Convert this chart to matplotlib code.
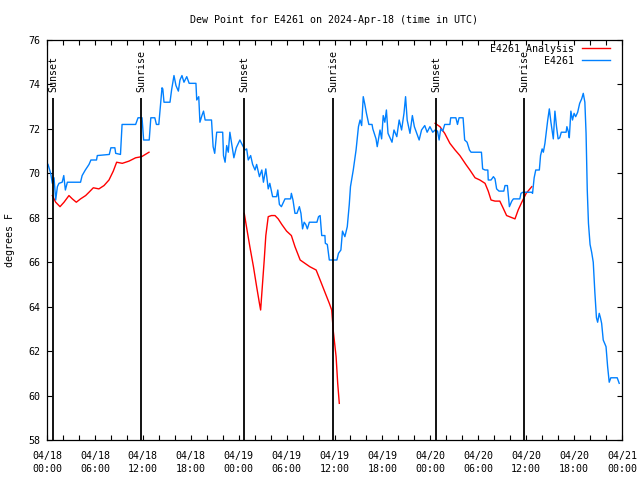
import numpy as np
import matplotlib
matplotlib.use("Agg")
import matplotlib.pyplot as plt
from matplotlib.ticker import MultipleLocator

# station data (hours since 2024-04-18 00:00 UTC, dew point in F)
obs_hours = [0.13, 0.46, 0.67, 0.88, 1.09, 1.3, 1.5, 1.9, 2.1, 2.3, 2.55, 4.2, 4.4, 4.8, 5.26,
             5.5, 6.2, 6.3, 7.8, 8.0, 8.5, 8.6, 9.2, 9.4, 11.1, 11.4, 11.9, 12.1, 12.8, 13.0,
             13.5, 13.7, 14.0, 14.2, 14.4, 14.5, 14.65, 15.4, 15.6, 15.9, 16.15, 16.45, 16.65,
             16.9, 17.15, 17.5, 17.8, 18.65, 18.75, 19.0, 19.15, 19.4, 19.6, 19.8, 20.6, 20.8,
             21.0, 21.25, 22.0, 22.1, 22.3, 22.5, 22.7, 22.9, 23.1, 23.4, 23.7, 24.15, 24.5,
             24.8, 25.0, 25.2, 25.5, 25.75, 26.05, 26.25, 26.6, 26.9, 27.1, 27.4, 27.7, 27.9,
             28.25, 28.75, 28.9, 29.1, 29.35, 29.8, 30.5, 30.6, 30.8, 31.05, 31.3, 31.6, 31.8,
             32.0, 32.2, 32.4, 32.6, 32.85, 33.8, 34.0, 34.2, 34.4, 34.8, 34.85, 35.1, 35.35,
             36.3, 36.5, 36.8, 37.0, 37.3, 37.6, 37.85, 38.0, 38.35, 38.7, 39.0, 39.2, 39.4,
             39.6, 39.8, 40.0, 40.3, 40.7, 40.8, 41.2, 41.35, 41.7, 41.9, 42.1, 42.3, 42.5,
             42.7, 43.2, 43.45, 43.8, 44.1, 44.4, 44.7, 44.9, 45.1, 45.45, 45.75, 46.0, 46.3,
             46.6, 46.9, 47.3, 47.6, 47.95, 48.3, 48.6, 48.9, 49.1, 49.3, 49.55, 49.8, 50.45,
             50.55, 51.2, 51.4, 51.6, 52.1, 52.3, 52.6, 52.9, 53.1, 54.4, 54.55, 54.85, 55.2,
             55.25, 55.6, 55.9, 56.1, 56.3, 56.6, 57.2, 57.35, 57.65, 57.9, 58.2, 58.4, 59.2,
             59.35, 59.6, 60.7, 60.8, 61.0, 61.2, 61.65, 61.8, 62.0, 62.15, 62.35, 62.5, 62.7,
             62.9, 63.1, 63.3, 63.4, 63.6, 63.8, 64.0, 64.2, 64.4, 65.0, 65.1, 65.3, 65.4, 65.6,
             65.8, 66.0, 66.2, 66.45, 66.7, 66.95, 67.15, 67.35, 67.5, 67.65, 67.8, 68.0, 68.2,
             68.4, 68.6, 68.8, 68.95, 69.15, 69.3, 69.45, 69.65, 70.0, 70.2, 70.4, 70.6, 71.4,
             71.65]
obs_dewpt = [70.4, 70.0, 69.55, 69.8, 68.8, 69.4, 69.55, 69.6, 69.9, 69.25, 69.6, 69.6, 69.9,
             70.15, 70.4, 70.6, 70.6, 70.8, 70.85, 71.15, 71.15, 70.9, 70.85, 72.2, 72.2, 72.5,
             72.5, 71.5, 71.5, 72.5, 72.5, 72.2, 72.2, 73.0, 73.85, 73.8, 73.2, 73.2, 73.75,
             74.4, 73.95, 73.7, 74.2, 74.4, 74.1, 74.35, 74.05, 74.05, 73.3, 73.45, 72.3, 72.6,
             72.8, 72.4, 72.4, 71.2, 70.9, 71.85, 71.85, 70.8, 70.5, 71.25, 70.95, 71.85, 71.4,
             70.7, 71.15, 71.5, 71.25, 71.05, 71.1, 70.6, 70.8, 70.4, 70.15, 70.4, 69.85, 70.15,
             69.6, 70.2, 69.3, 69.55, 68.95, 68.95, 69.25, 68.6, 68.5, 68.85, 68.85, 69.1, 68.8,
             68.2, 68.2, 68.5, 68.2, 67.5, 67.8, 67.7, 67.5, 67.8, 67.8, 68.05, 68.1, 67.2, 67.2,
             66.85, 66.8, 66.1, 66.1, 66.4, 66.55, 67.4, 67.15, 67.6, 68.6, 69.4, 70.15, 71.05,
             72.1, 72.4, 72.15, 73.45, 73.1, 72.7, 72.2, 72.2, 72.0, 71.55, 71.2, 71.95, 71.55,
             72.6, 72.3, 72.85, 71.8, 71.4, 71.95, 71.65, 72.4, 71.95, 72.7, 73.45, 72.4, 71.8,
             72.6, 72.1, 71.8, 71.5, 71.95, 72.15, 71.85, 72.1, 71.85, 71.95, 71.9, 71.5, 72.0,
             71.9, 72.2, 72.2, 72.5, 72.5, 72.2, 72.5, 72.5, 71.5, 71.4, 71.05, 70.95, 70.95,
             70.2, 70.15, 70.15, 69.7, 69.7, 69.85, 69.75, 69.3, 69.2, 69.2, 69.45, 69.45, 68.5,
             68.75, 68.85, 68.85, 69.1, 69.15, 69.15, 69.1, 69.8, 70.15, 70.15, 70.8, 71.1,
             70.95, 71.35, 71.8, 72.4, 72.9, 72.3, 71.8, 71.55, 72.8, 72.1, 71.55, 71.6, 71.85,
             71.85, 72.1, 71.85, 71.6, 72.8, 72.4, 72.7, 72.55, 72.75, 73.15, 73.35, 73.6, 73.2,
             71.8, 69.25, 67.75, 66.8, 66.45, 66.0, 64.65, 63.5, 63.3, 63.7, 63.5, 63.25, 62.5,
             62.2, 61.3, 60.6, 60.8, 60.8, 60.55]

# analysis (nan = gap)
ana_hours = [0.67, 1.09, 1.63, 2.13, 2.75, 3.17, 3.67, 4.2, 4.84, 5.26, 5.8, 6.5, 7.14, 7.76,
             8.3, 8.72, 9.43, 10.27, 11.1, 11.85, 12.77, 18.0,
             24.7, 25.0, 25.4, 25.85, 26.25, 26.6, 26.75, 26.9, 27.2, 27.4, 27.7, 28.1, 28.55,
             28.95, 29.4, 30.0, 30.6, 31.05, 31.7, 32.3, 32.9, 33.7, 34.2, 34.8, 35.35, 35.65,
             35.85, 36.2, 36.4, 36.6, 42.0,
             48.6, 49.2, 49.8, 50.45, 51.1, 51.7, 52.45, 52.95, 53.6, 54.2, 54.85, 55.25, 55.6,
             56.1, 56.7, 57.1, 57.55, 58.6, 59.0, 59.45, 60.0, 60.7]
ana_dewpt = [69.0, 68.7, 68.5, 68.7, 69.0, 68.85, 68.7, 68.85, 69.0, 69.15, 69.35, 69.3, 69.45,
             69.7, 70.1, 70.5, 70.45, 70.55, 70.7, 70.75, 70.95, np.nan,
             68.2, 67.55, 66.7, 65.8, 64.9, 64.15, 63.85, 64.6, 66.1, 67.2, 68.05, 68.1, 68.1,
             67.95, 67.7, 67.4, 67.2, 66.7, 66.1, 65.95, 65.8, 65.65, 65.2, 64.65, 64.15, 63.85,
             62.9, 61.75, 60.55, 59.65, np.nan,
             72.25, 72.1, 71.8, 71.35, 71.05, 70.8, 70.4, 70.15, 69.8, 69.7, 69.55, 69.2, 68.8,
             68.75, 68.75, 68.45, 68.1, 67.95, 68.35, 68.7, 69.1, 69.4]

sunset = [0.8, 24.7, 48.77]
sunrise = [11.8, 35.85, 59.77]

tick_hours = list(range(0, 73, 6))
tick_labels = ['04/18\n00:00', '04/18\n06:00', '04/18\n12:00', '04/18\n18:00',
               '04/19\n00:00', '04/19\n06:00', '04/19\n12:00', '04/19\n18:00',
               '04/20\n00:00', '04/20\n06:00', '04/20\n12:00', '04/20\n18:00',
               '04/21\n00:00']

plt.rcParams['font.family'] = ['DejaVu Sans Mono']
plt.rcParams['font.size'] = 7.2

fig = plt.figure(figsize=(6.4, 4.8), dpi=100)
ax = fig.add_axes([47 / 640, 40 / 480, 575 / 640, 400 / 480])

ax.plot(ana_hours, ana_dewpt, color='#ff0000', lw=1, label='E4261 Analysis')
ax.plot(obs_hours, obs_dewpt, color='#0080ff', lw=1, label='E4261')

for h in sunset:
    ax.vlines(h, 58, 73.38, color='black', lw=1.3)
    ax.text(h, 73.67, 'Sunset', rotation=90, ha='center', va='bottom')
for h in sunrise:
    ax.vlines(h, 58, 73.38, color='black', lw=1.3)
    ax.text(h, 73.67, 'Sunrise', rotation=90, ha='center', va='bottom')

ax.set_xlim(0, 72)
ax.set_ylim(58, 76)
ax.set_xticks(tick_hours)
ax.set_xticklabels(tick_labels, linespacing=1.4)
ax.xaxis.set_minor_locator(MultipleLocator(2))
ax.set_yticks(range(58, 77, 2))
ax.tick_params(which='both', direction='in', top=True, right=True, length=3.6, width=0.8)
ax.tick_params(axis='x', pad=8)
ax.tick_params(axis='y', pad=5)
for s in ax.spines.values():
    s.set_linewidth(0.9)

ax.set_title('Dew Point for E4261 on 2024-Apr-18 (time in UTC)', fontsize=7.2, pad=12)
fig.text(10 / 640, 0.5, 'degrees F', rotation=90, ha='center', va='center')

ax.legend(loc='upper right', bbox_to_anchor=(0.979, 0.99), frameon=False,
          markerfirst=False, handlelength=2.8, handletextpad=0.75,
          labelspacing=0.2, borderaxespad=0, borderpad=0)

fig.savefig('out.png', dpi=100)
